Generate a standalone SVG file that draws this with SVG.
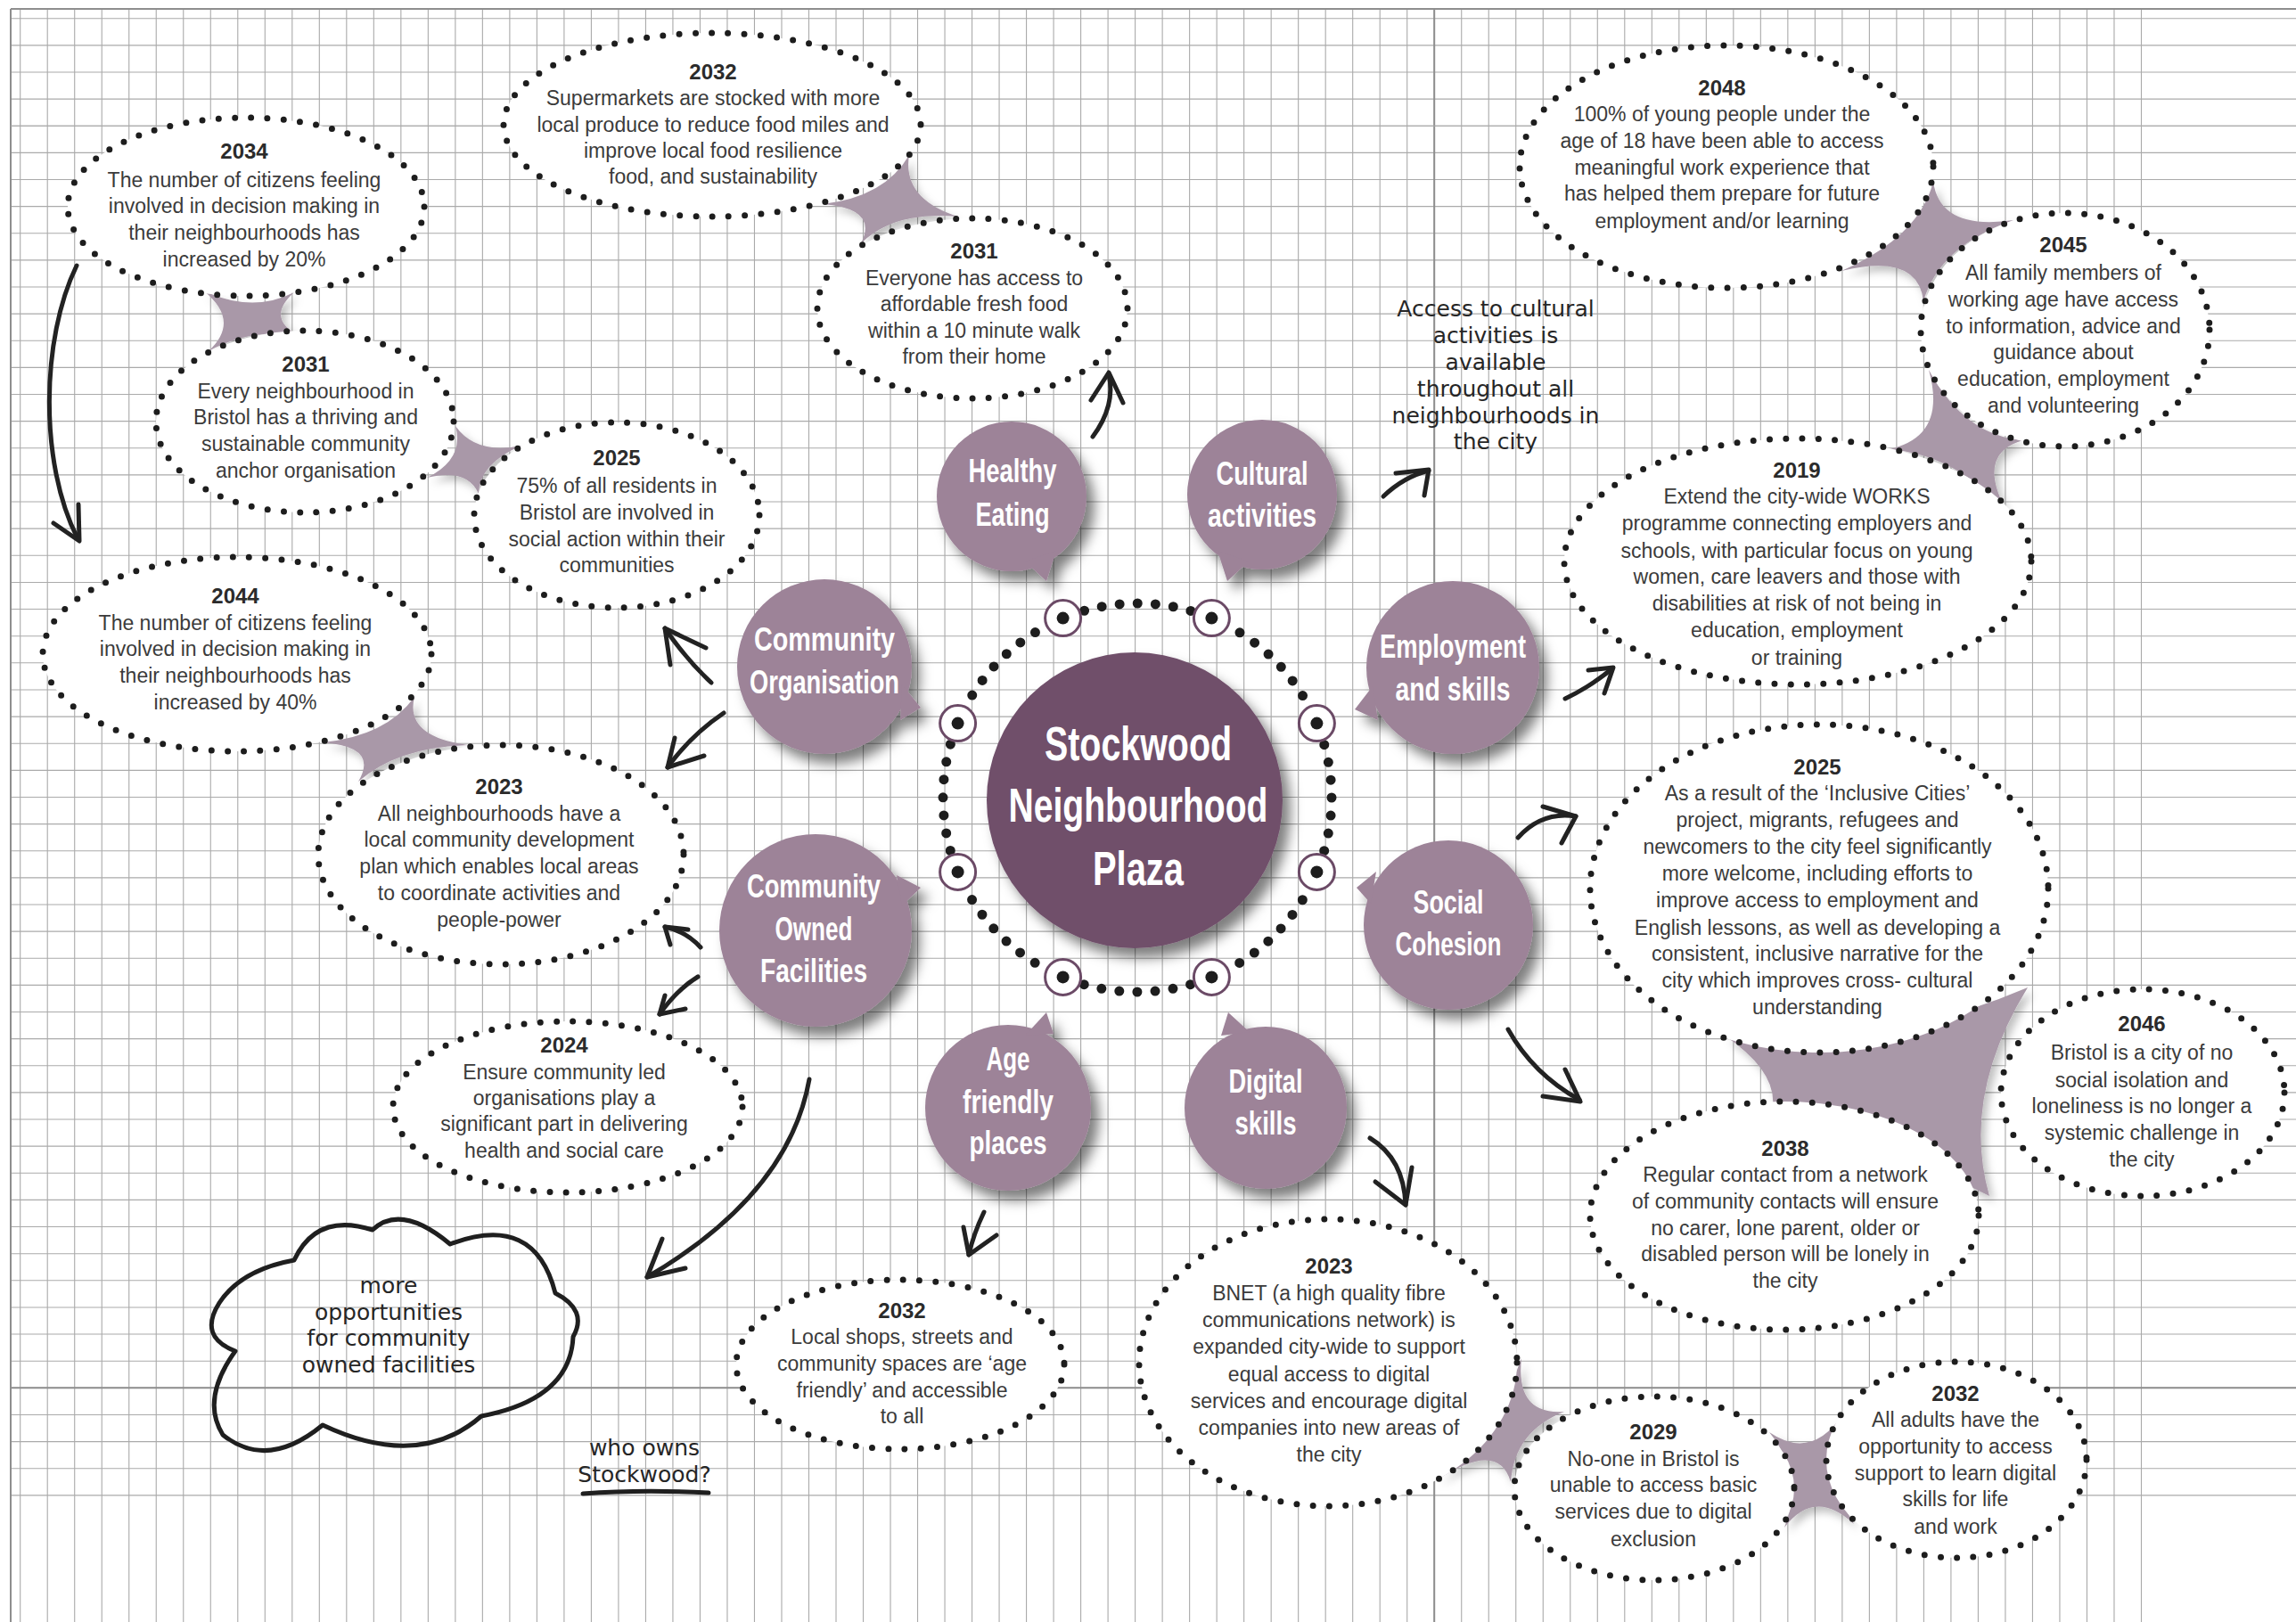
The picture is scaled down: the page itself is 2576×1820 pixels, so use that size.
<svg xmlns="http://www.w3.org/2000/svg" width="2576" height="1820" viewBox="0 0 2576 1820">
<defs>
<style>
.grid{fill:none;stroke:#aaaaaa;stroke-width:1.1}
.gridb{fill:none;stroke:#8e8e8e;stroke-width:2}
.bub{fill:#fff;stroke:#1d1d1d;stroke-width:7;stroke-linecap:round;stroke-dasharray:0 18.3}
.star{fill:#a998a8;filter:url(#soft)}
.yr{font-family:"Liberation Sans",Arial,sans-serif;font-weight:bold;font-size:24px;fill:#2b2b2b;text-anchor:middle}
.bt{font-family:"Liberation Sans",Arial,sans-serif;font-size:23px;fill:#3b3b3b;text-anchor:middle}
.sat{fill:#9d8398;filter:url(#drop)}
.lab{font-family:"Liberation Sans",Arial,sans-serif;font-weight:bold;font-size:37px;fill:#fff;text-anchor:middle}
.big{font-family:"Liberation Sans",Arial,sans-serif;font-weight:bold;font-size:53px;fill:#fff;text-anchor:middle}
.arr{fill:none;stroke:#222;stroke-width:5;stroke-linecap:round;stroke-linejoin:round}
.hand{font-family:"DejaVu Sans",sans-serif;font-size:25px;fill:#262626;text-anchor:middle}
.sock{fill:#fff;stroke:#6b4a66;stroke-width:3}
</style>
<filter id="drop" x="-30%" y="-30%" width="170%" height="170%">
<feDropShadow dx="9" dy="11" stdDeviation="7" flood-color="#000" flood-opacity="0.5"/>
</filter>
<filter id="soft" x="-30%" y="-30%" width="170%" height="170%">
<feDropShadow dx="5" dy="6" stdDeviation="5" flood-color="#000" flood-opacity="0.25"/>
</filter>
</defs>

<!-- background and graph paper -->
<rect width="2576" height="1820" fill="#fff"/>
<path class="grid" d="M22.7 10v1810m30.51-1810v1810m30.51-1810v1810m30.51-1810v1810m30.51-1810v1810m30.51-1810v1810m30.51-1810v1810m30.51-1810v1810m30.51-1810v1810m30.51-1810v1810m30.51-1810v1810m30.51-1810v1810m30.51-1810v1810m30.51-1810v1810m30.51-1810v1810m30.51-1810v1810m30.51-1810v1810m30.51-1810v1810m30.51-1810v1810m30.51-1810v1810m30.51-1810v1810m30.51-1810v1810m30.51-1810v1810m30.51-1810v1810m30.51-1810v1810m30.51-1810v1810m30.51-1810v1810m30.51-1810v1810m30.51-1810v1810m30.51-1810v1810m30.51-1810v1810m30.51-1810v1810m30.51-1810v1810m30.51-1810v1810m30.51-1810v1810m30.51-1810v1810m30.51-1810v1810m30.51-1810v1810m30.51-1810v1810m30.51-1810v1810m30.51-1810v1810m30.51-1810v1810m30.51-1810v1810m30.51-1810v1810m30.51-1810v1810m30.51-1810v1810m30.51-1810v1810m30.51-1810v1810m30.51-1810v1810m30.51-1810v1810m30.51-1810v1810m30.51-1810v1810m30.51-1810v1810m30.51-1810v1810m30.51-1810v1810m30.51-1810v1810m30.51-1810v1810m30.51-1810v1810m30.51-1810v1810m30.51-1810v1810m30.51-1810v1810m30.51-1810v1810m30.51-1810v1810m30.51-1810v1810m30.51-1810v1810m30.51-1810v1810m30.51-1810v1810m30.51-1810v1810m30.51-1810v1810m30.51-1810v1810m30.51-1810v1810m30.51-1810v1810m30.51-1810v1810m30.51-1810v1810m30.51-1810v1810m30.51-1810v1810m30.51-1810v1810m30.51-1810v1810m30.51-1810v1810"/>
<path class="grid" d="M12 20.7h2564m-2564 30.13h2564m-2564 30.13h2564m-2564 30.13h2564m-2564 30.13h2564m-2564 30.13h2564m-2564 30.13h2564m-2564 30.13h2564m-2564 30.13h2564m-2564 30.13h2564m-2564 30.13h2564m-2564 30.13h2564m-2564 30.13h2564m-2564 30.13h2564m-2564 30.13h2564m-2564 30.13h2564m-2564 30.13h2564m-2564 30.13h2564m-2564 30.13h2564m-2564 30.13h2564m-2564 30.13h2564m-2564 30.13h2564m-2564 30.13h2564m-2564 30.13h2564m-2564 30.13h2564m-2564 30.13h2564m-2564 30.13h2564m-2564 30.13h2564m-2564 30.13h2564m-2564 30.13h2564m-2564 30.13h2564m-2564 30.13h2564m-2564 30.13h2564m-2564 30.13h2564m-2564 30.13h2564m-2564 30.13h2564m-2564 30.13h2564m-2564 30.13h2564m-2564 30.13h2564m-2564 30.13h2564m-2564 30.13h2564m-2564 30.13h2564m-2564 30.13h2564m-2564 30.13h2564m-2564 30.13h2564m-2564 30.13h2564m-2564 30.13h2564m-2564 30.13h2564m-2564 30.13h2564m-2564 30.13h2564m-2564 30.13h2564m-2564 30.13h2564m-2564 30.13h2564m-2564 30.13h2564m-2564 30.13h2564m-2564 30.13h2564"/>
<path class="gridb" d="M12 10V1820M1609.2 10V1820M12 10H2576M12 1557.3H2576"/>
<path class="grid" d="M12 141.2H2576" stroke="#999" stroke-width="1.6"/>

<!-- concave star links between neighbouring bubbles -->
<g id="links">
<path class="star" d="M228,326 Q283,352 330,328 Q296.5,358 338,378 Q284.5,366.5 234,394 Q270.75,360 228,326Z"/>
<path class="star" d="M511,478 Q534.5,510.75 585,500 Q537.75,520.25 537,554 Q524.5,524.75 479,536 Q521.25,515.25 511,478Z"/>
<path class="star" d="M1020,174 Q1012,223 1075,243 Q1005,236 966,273 Q986,234 923,229 Q993,221 1020,174Z"/>
<path class="star" d="M465,782 Q453.75,826.25 525,836 Q445.9,838.1 402,877 Q425.5,837.75 362,833 Q433.4,825.9 465,782Z"/>
<path class="star" d="M2169,204 Q2177,259 2259,247 Q2176,276 2158,338 Q2152,283 2066,304 Q2153,266 2169,204Z"/>
<path class="star" d="M2164,415 Q2204,489 2270,494 Q2215,509 2253,577 Q2196,510 2119,504 Q2185,490 2164,415Z"/>
<path class="star" d="M1935,1162 Q2107,1180 2275,1108 Q2200,1230 2232,1342 Q2105,1275 1960,1290 Q2029,1226 1935,1162Z"/>
<path class="star" d="M1707,1524 Q1700,1588 1755,1584 Q1699,1606 1695,1663 Q1681,1615 1612,1661 Q1682,1598 1707,1524Z"/>
<path class="star" d="M1985,1607 Q2033,1640 2069,1585 Q2045,1653 2080,1710 Q2036,1669 2002,1714 Q2025,1656 1985,1607Z"/>
</g>

<!-- milestone bubbles -->
<g id="b2034-decision">
<ellipse class="bub" cx="276" cy="232" rx="200" ry="100"/>
<text class="yr" x="274" y="178">2034</text>
<text class="bt"><tspan x="274" y="209.6">The number of citizens feeling</tspan><tspan x="274" y="239.3">involved in decision making in</tspan><tspan x="274" y="269">their neighbourhoods has</tspan><tspan x="274" y="298.7">increased by 20%</tspan></text>
</g>
<g id="b2032-supermarkets">
<ellipse class="bub" cx="799" cy="140" rx="234" ry="103"/>
<text class="yr" x="800" y="89">2032</text>
<text class="bt"><tspan x="800" y="118">Supermarkets are stocked with more</tspan><tspan x="800" y="148">local produce to reduce food miles and</tspan><tspan x="800" y="177">improve local food resilience</tspan><tspan x="800" y="206">food, and sustainability</tspan></text>
</g>
<g id="b2031-food">
<ellipse class="bub" cx="1091" cy="346" rx="174" ry="101"/>
<text class="yr" x="1093" y="290">2031</text>
<text class="bt"><tspan x="1093" y="319.5">Everyone has access to</tspan><tspan x="1093" y="349">affordable fresh food</tspan><tspan x="1093" y="379">within a 10 minute walk</tspan><tspan x="1093" y="408">from their home</tspan></text>
</g>
<g id="b2031-anchor">
<ellipse class="bub" cx="342" cy="473" rx="167" ry="102"/>
<text class="yr" x="343" y="417">2031</text>
<text class="bt"><tspan x="343" y="447">Every neighbourhood in</tspan><tspan x="343" y="476">Bristol has a thriving and</tspan><tspan x="343" y="506">sustainable community</tspan><tspan x="343" y="536">anchor organisation</tspan></text>
</g>
<g id="b2025-social-action">
<ellipse class="bub" cx="692" cy="578" rx="160" ry="104"/>
<text class="yr" x="692" y="522">2025</text>
<text class="bt"><tspan x="692" y="553">75% of all residents in</tspan><tspan x="692" y="583">Bristol are involved in</tspan><tspan x="692" y="613">social action within their</tspan><tspan x="692" y="642">communities</tspan></text>
</g>
<g id="b2044-decision">
<ellipse class="bub" cx="266" cy="734" rx="218" ry="109"/>
<text class="yr" x="264" y="677">2044</text>
<text class="bt"><tspan x="264" y="707">The number of citizens feeling</tspan><tspan x="264" y="736">involved in decision making in</tspan><tspan x="264" y="766">their neighbourhoods has</tspan><tspan x="264" y="796">increased by 40%</tspan></text>
</g>
<g id="b2023-plan">
<ellipse class="bub" cx="562" cy="959" rx="205" ry="123"/>
<text class="yr" x="560" y="891">2023</text>
<text class="bt"><tspan x="560" y="921">All neighbourhoods have a</tspan><tspan x="560" y="950">local community development</tspan><tspan x="560" y="980">plan which enables local areas</tspan><tspan x="560" y="1010">to coordinate activities and</tspan><tspan x="560" y="1040">people-power</tspan></text>
</g>
<g id="b2024-care">
<ellipse class="bub" cx="637" cy="1242" rx="196" ry="96"/>
<text class="yr" x="633" y="1181">2024</text>
<text class="bt"><tspan x="633" y="1211">Ensure community led</tspan><tspan x="633" y="1240">organisations play a</tspan><tspan x="633" y="1269">significant part in delivering</tspan><tspan x="633" y="1299">health and social care</tspan></text>
</g>
<g id="b2032-shops">
<ellipse class="bub" cx="1010" cy="1531" rx="184" ry="95"/>
<text class="yr" x="1012" y="1479">2032</text>
<text class="bt"><tspan x="1012" y="1508">Local shops, streets and</tspan><tspan x="1012" y="1538">community spaces are ‘age</tspan><tspan x="1012" y="1568">friendly’ and accessible</tspan><tspan x="1012" y="1597">to all</tspan></text>
</g>
<g id="b2023-bnet">
<ellipse class="bub" cx="1490" cy="1529" rx="212" ry="161"/>
<text class="yr" x="1491" y="1429">2023</text>
<text class="bt"><tspan x="1491" y="1459">BNET (a high quality fibre</tspan><tspan x="1491" y="1489">communications network) is</tspan><tspan x="1491" y="1519">expanded city-wide to support</tspan><tspan x="1491" y="1550">equal access to digital</tspan><tspan x="1491" y="1580">services and encourage digital</tspan><tspan x="1491" y="1610">companies into new areas of</tspan><tspan x="1491" y="1640">the city</tspan></text>
</g>
<g id="b2029-exclusion">
<ellipse class="bub" cx="1856" cy="1670" rx="157" ry="103"/>
<text class="yr" x="1855" y="1615">2029</text>
<text class="bt"><tspan x="1855" y="1645">No-one in Bristol is</tspan><tspan x="1855" y="1674">unable to access basic</tspan><tspan x="1855" y="1704">services due to digital</tspan><tspan x="1855" y="1735">exclusion</tspan></text>
</g>
<g id="b2032-adults">
<ellipse class="bub" cx="2195" cy="1638" rx="146" ry="110"/>
<text class="yr" x="2194" y="1572">2032</text>
<text class="bt"><tspan x="2194" y="1601">All adults have the</tspan><tspan x="2194" y="1631">opportunity to access</tspan><tspan x="2194" y="1661">support to learn digital</tspan><tspan x="2194" y="1690">skills for life</tspan><tspan x="2194" y="1721">and work</tspan></text>
</g>
<g id="b2038-contact">
<ellipse class="bub" cx="2002" cy="1364" rx="218" ry="128"/>
<text class="yr" x="2003" y="1297">2038</text>
<text class="bt"><tspan x="2003" y="1326">Regular contact from a network</tspan><tspan x="2003" y="1356">of community contacts will ensure</tspan><tspan x="2003" y="1386">no carer, lone parent, older or</tspan><tspan x="2003" y="1415">disabled person will be lonely in</tspan><tspan x="2003" y="1445">the city</tspan></text>
</g>
<g id="b2046-isolation">
<ellipse class="bub" cx="2404" cy="1226" rx="159" ry="116"/>
<text class="yr" x="2403" y="1157">2046</text>
<text class="bt"><tspan x="2403" y="1189">Bristol is a city of no</tspan><tspan x="2403" y="1220">social isolation and</tspan><tspan x="2403" y="1249">loneliness is no longer a</tspan><tspan x="2403" y="1279">systemic challenge in</tspan><tspan x="2403" y="1309">the city</tspan></text>
</g>
<g id="b2025-inclusive">
<ellipse class="bub" cx="2041" cy="997" rx="257" ry="184"/>
<text class="yr" x="2039" y="869">2025</text>
<text class="bt"><tspan x="2039" y="898">As a result of the ‘Inclusive Cities’</tspan><tspan x="2039" y="928">project, migrants, refugees and</tspan><tspan x="2039" y="958">newcomers to the city feel significantly</tspan><tspan x="2039" y="988">more welcome, including efforts to</tspan><tspan x="2039" y="1018">improve access to employment and</tspan><tspan x="2039" y="1049">English lessons, as well as developing a</tspan><tspan x="2039" y="1078">consistent, inclusive narrative for the</tspan><tspan x="2039" y="1108">city which improves cross- cultural</tspan><tspan x="2039" y="1138">understanding</tspan></text>
</g>
<g id="b2019-works">
<ellipse class="bub" cx="2017" cy="630" rx="262" ry="138"/>
<text class="yr" x="2016" y="536">2019</text>
<text class="bt"><tspan x="2016" y="565">Extend the city-wide WORKS</tspan><tspan x="2016" y="595">programme connecting employers and</tspan><tspan x="2016" y="626">schools, with particular focus on young</tspan><tspan x="2016" y="655">women, care leavers and those with</tspan><tspan x="2016" y="685">disabilities at risk of not being in</tspan><tspan x="2016" y="715">education, employment</tspan><tspan x="2016" y="746">or training</tspan></text>
</g>
<g id="b2048-young">
<ellipse class="bub" cx="1937" cy="187" rx="232" ry="136"/>
<text class="yr" x="1932" y="107">2048</text>
<text class="bt"><tspan x="1932" y="136">100% of young people under the</tspan><tspan x="1932" y="166">age of 18 have been able to access</tspan><tspan x="1932" y="196">meaningful work experience that</tspan><tspan x="1932" y="225">has helped them prepare for future</tspan><tspan x="1932" y="256">employment and/or learning</tspan></text>
</g>
<g id="b2045-family">
<ellipse class="bub" cx="2317" cy="370" rx="162" ry="131"/>
<text class="yr" x="2315" y="283">2045</text>
<text class="bt"><tspan x="2315" y="314">All family members of</tspan><tspan x="2315" y="344">working age have access</tspan><tspan x="2315" y="374">to information, advice and</tspan><tspan x="2315" y="403">guidance about</tspan><tspan x="2315" y="433">education, employment</tspan><tspan x="2315" y="463">and volunteering</tspan></text>
</g>

<!-- handwritten notes -->
<g id="note-cultural">
<text class="hand"><tspan x="1678" y="355">Access to cultural</tspan><tspan x="1678" y="385">activities is</tspan><tspan x="1678" y="415">available</tspan><tspan x="1678" y="445">throughout all</tspan><tspan x="1678" y="475">neighbourhoods in</tspan><tspan x="1678" y="504">the city</tspan></text>
</g>
<g id="note-cloud">
<path d="M264,1516 Q222,1500 246,1462 Q270,1425 330,1414 Q355,1360 418,1380 Q450,1350 505,1396 Q600,1360 623,1451 Q660,1470 643,1500 Q640,1570 540,1589 Q470,1650 362,1599 Q300,1650 250,1610 Q225,1570 264,1516 Z" fill="none" stroke="#1f1f1f" stroke-width="5" stroke-linejoin="round"/>
<text class="hand"><tspan x="436" y="1451">more</tspan><tspan x="436" y="1481">opportunities</tspan><tspan x="436" y="1510">for community</tspan><tspan x="436" y="1540">owned facilities</tspan></text>
</g>
<g id="note-owner">
<text class="hand" font-size="24"><tspan x="723" y="1633">who owns</tspan><tspan x="723" y="1663">Stockwood?</tspan></text>
<path d="M654,1676 Q720,1671 795,1675" fill="none" stroke="#1f1f1f" stroke-width="5" stroke-linecap="round"/>
</g>

<!-- connectors -->
<g id="connectors">
<path class="arr" d="M86,298 C46,380 44,520 87,604"/>
<path class="arr" d="M60,587 L89,607 L88,566"/>
<path class="arr" d="M1226,490 Q1252,455 1244,420"/>
<path class="arr" d="M1224,449 L1244,418 L1260,452"/>
<path class="arr" d="M1552,557 Q1575,535 1603,528"/>
<path class="arr" d="M1566,531 L1603,527 L1598,556"/>
<path class="arr" d="M1756,784 Q1785,770 1809,750"/>
<path class="arr" d="M1782,752 L1810,749 L1800,778"/>
<path class="arr" d="M1703,940 Q1730,910 1768,916"/>
<path class="arr" d="M1731,905 L1768,916 L1752,946"/>
<path class="arr" d="M1692,1155 Q1720,1205 1772,1234"/>
<path class="arr" d="M1756,1200 L1773,1236 L1731,1230"/>
<path class="arr" d="M1537,1277 Q1575,1300 1577,1352"/>
<path class="arr" d="M1543,1326 L1577,1352 L1584,1310"/>
<path class="arr" d="M1104,1360 Q1092,1385 1087,1408"/>
<path class="arr" d="M1081,1377 L1087,1408 L1118,1386"/>
<path class="arr" d="M908,1211 Q885,1340 726,1433"/>
<path class="arr" d="M743,1390 L726,1433 L769,1423"/>
<path class="arr" d="M786,1063 Q770,1045 746,1040"/>
<path class="arr" d="M752,1060 L746,1040 L772,1043"/>
<path class="arr" d="M783,1096 Q760,1110 740,1138"/>
<path class="arr" d="M746,1117 L740,1138 L769,1132"/>
<path class="arr" d="M798,766 Q770,740 746,705"/>
<path class="arr" d="M752,746 L746,705 L792,727"/>
<path class="arr" d="M812,800 Q775,825 749,861"/>
<path class="arr" d="M757,828 L749,861 L790,848"/>
</g>

<!-- theme circles around the plaza -->
<g id="t-healthy">
<g class="sat"><circle cx="1135" cy="557" r="84"/><polygon points="1150,630 1185,618 1174,652"/></g>
<text class="lab" x="1136" y="541" textLength="99" lengthAdjust="spacingAndGlyphs">Healthy</text>
<text class="lab" x="1136" y="590" textLength="83" lengthAdjust="spacingAndGlyphs">Eating</text>
</g>
<g id="t-cultural">
<g class="sat"><circle cx="1416" cy="555" r="84"/><polygon points="1401,630 1366,618 1377,652"/></g>
<text class="lab" x="1416" y="544" textLength="103" lengthAdjust="spacingAndGlyphs">Cultural</text>
<text class="lab" x="1416" y="591" textLength="122" lengthAdjust="spacingAndGlyphs">activities</text>
</g>
<g id="t-community-org">
<g class="sat"><circle cx="925" cy="748" r="98"/><polygon points="1012,768 1010,808 1033,794"/></g>
<text class="lab" x="925" y="730" textLength="158" lengthAdjust="spacingAndGlyphs">Community</text>
<text class="lab" x="925" y="778" textLength="168" lengthAdjust="spacingAndGlyphs">Organisation</text>
</g>
<g id="t-community-owned">
<g class="sat"><circle cx="915" cy="1044" r="108"/><polygon points="1006,982 1012,1016 1033,996"/></g>
<text class="lab" x="913" y="1007" textLength="150" lengthAdjust="spacingAndGlyphs">Community</text>
<text class="lab" x="913" y="1055" textLength="87" lengthAdjust="spacingAndGlyphs">Owned</text>
<text class="lab" x="913" y="1102" textLength="120" lengthAdjust="spacingAndGlyphs">Facilities</text>
</g>
<g id="t-employment">
<g class="sat"><circle cx="1630" cy="749" r="97"/><polygon points="1540,770 1546,808 1520,796"/></g>
<text class="lab" x="1630" y="738" textLength="164" lengthAdjust="spacingAndGlyphs">Employment</text>
<text class="lab" x="1630" y="786" textLength="129" lengthAdjust="spacingAndGlyphs">and skills</text>
</g>
<g id="t-social">
<g class="sat"><circle cx="1625" cy="1038" r="95"/><polygon points="1544,978 1538,1014 1522,996"/></g>
<text class="lab" x="1625" y="1025" textLength="79" lengthAdjust="spacingAndGlyphs">Social</text>
<text class="lab" x="1625" y="1072" textLength="119" lengthAdjust="spacingAndGlyphs">Cohesion</text>
</g>
<g id="t-age">
<g class="sat"><circle cx="1131" cy="1243" r="93"/><polygon points="1150,1162 1182,1160 1174,1136"/></g>
<text class="lab" x="1131" y="1201" textLength="49" lengthAdjust="spacingAndGlyphs">Age</text>
<text class="lab" x="1131" y="1249" textLength="102" lengthAdjust="spacingAndGlyphs">friendly</text>
<text class="lab" x="1131" y="1295" textLength="87" lengthAdjust="spacingAndGlyphs">places</text>
</g>
<g id="t-digital">
<g class="sat"><circle cx="1420" cy="1243" r="91"/><polygon points="1370,1162 1402,1158 1378,1136"/></g>
<text class="lab" x="1420" y="1226" textLength="83" lengthAdjust="spacingAndGlyphs">Digital</text>
<text class="lab" x="1420" y="1273" textLength="69" lengthAdjust="spacingAndGlyphs">skills</text>
</g>

<!-- central plaza with its ring of sockets -->
<g id="plaza">
<circle cx="1276" cy="895" r="218" fill="none" stroke="#1d1d1d" stroke-width="11" stroke-linecap="round" stroke-dasharray="0 20.14"/>
<circle cx="1273" cy="898" r="166" fill="#704f6a" filter="url(#drop)"/>
<text class="big" x="1277" y="853" textLength="210" lengthAdjust="spacingAndGlyphs">Stockwood</text>
<text class="big" x="1277" y="922" textLength="291" lengthAdjust="spacingAndGlyphs">Neighbourhood</text>
<text class="big" x="1277" y="993" textLength="102" lengthAdjust="spacingAndGlyphs">Plaza</text>
<g id="sockets">
<circle class="sock" cx="1359.4" cy="693.6" r="20"/><circle cx="1359.4" cy="693.6" r="7" fill="#1d1d1d"/>
<circle class="sock" cx="1477.4" cy="811.6" r="20"/><circle cx="1477.4" cy="811.6" r="7" fill="#1d1d1d"/>
<circle class="sock" cx="1477.4" cy="978.4" r="20"/><circle cx="1477.4" cy="978.4" r="7" fill="#1d1d1d"/>
<circle class="sock" cx="1359.4" cy="1096.4" r="20"/><circle cx="1359.4" cy="1096.4" r="7" fill="#1d1d1d"/>
<circle class="sock" cx="1192.6" cy="1096.4" r="20"/><circle cx="1192.6" cy="1096.4" r="7" fill="#1d1d1d"/>
<circle class="sock" cx="1074.6" cy="978.4" r="20"/><circle cx="1074.6" cy="978.4" r="7" fill="#1d1d1d"/>
<circle class="sock" cx="1074.6" cy="811.6" r="20"/><circle cx="1074.6" cy="811.6" r="7" fill="#1d1d1d"/>
<circle class="sock" cx="1192.6" cy="693.6" r="20"/><circle cx="1192.6" cy="693.6" r="7" fill="#1d1d1d"/>
</g>
</g>
</svg>
